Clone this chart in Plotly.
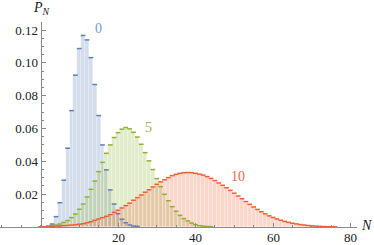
import plotly.graph_objects as go

# ---- data ----
blue_start = 2
blue_vals = [0.0004, 0.0018, 0.0063, 0.0148, 0.0285, 0.048, 0.0709, 0.0925, 0.1087,
             0.1167, 0.114, 0.1032, 0.0868, 0.0679, 0.050, 0.0348, 0.0226, 0.014,
             0.0081, 0.0047, 0.0026, 0.0012, 0.0006, 0.0003]

green_start = 2
green_vals = [0.0003, 0.0007, 0.0012, 0.0018, 0.0028, 0.0039, 0.0057, 0.0079, 0.0108,
              0.014, 0.0183, 0.023, 0.028, 0.0337, 0.0394, 0.0449, 0.050, 0.0545,
              0.0575, 0.0596, 0.0606, 0.0598, 0.0577, 0.0548, 0.0504, 0.0453, 0.0403,
              0.035, 0.0295, 0.0246, 0.0199, 0.016, 0.0124, 0.0096, 0.0071, 0.0051,
              0.0037, 0.0024, 0.0014, 0.0008, 0.0005, 0.0003, 0.0002]

red_start = 0
red_vals = [0.0001, 0.0002, 0.0003, 0.0004, 0.0005, 0.0006, 0.0008, 0.001, 0.0012,
            0.0014, 0.0017, 0.002, 0.0026, 0.0032, 0.0041, 0.0049, 0.0057, 0.0065,
            0.0075, 0.009, 0.0102, 0.0116, 0.013, 0.0145, 0.0163, 0.0179, 0.0195,
            0.0212, 0.0227, 0.0244, 0.026, 0.0275, 0.0288, 0.0301, 0.0313, 0.0321,
            0.0327, 0.0331, 0.0332, 0.0331, 0.0327, 0.0322, 0.0316, 0.0307, 0.0296,
            0.0283, 0.0268, 0.0254, 0.0239, 0.0223, 0.0206, 0.0189, 0.0172, 0.0155,
            0.0138, 0.0122, 0.0107, 0.0093, 0.008, 0.0068, 0.0058, 0.0049, 0.0041,
            0.0034, 0.0028, 0.0023, 0.0019, 0.0015, 0.0012, 0.0009, 0.0007, 0.0005,
            0.0004, 0.0003, 0.0002, 0.0002, 0.0001]

series_labels = ["0", "5", "10"]
label_pos_x = [14.9, 27.8, 51.0]
label_pos_y = [0.1212, 0.0608, 0.0307]

x_tick_vals = [20, 40, 60, 80]
x_tick_text = ["20", "40", "60", "80"]
y_tick_vals = [0.02, 0.04, 0.06, 0.08, 0.10, 0.12]
y_tick_text = ["0.02", "0.04", "0.06", "0.08", "0.10", "0.12"]

# ---- styles ----
edge_colors = ["#5e81b5", "#8fb032", "#eb6235"]
fill_colors = ["rgba(94,129,181,0.27)", "rgba(143,176,50,0.26)", "rgba(235,98,53,0.26)"]
label_colors = ["#7b98c6", "#9ab53c", "#ee6a45"]
serif = "Liberation Serif, Times New Roman, DejaVu Serif, serif"
axis_col = "#8a8a8a"

W, H = 374, 245
plot_right = 357
y_axis_px = 40.5

series = [(blue_start, blue_vals), (green_start, green_vals), (red_start, red_vals)]

fig = go.Figure()
for (start, vals), fc in zip(series, fill_colors):
    xs = list(range(start, start + len(vals)))
    fig.add_trace(go.Bar(x=xs, y=vals, width=1,
                         marker=dict(color=fc, line=dict(color="rgba(255,255,255,0.6)", width=0.5)),
                         showlegend=False, hoverinfo="skip"))
for (start, vals), ec in zip(series, edge_colors):
    xs = list(range(start, start + len(vals)))
    fig.add_trace(go.Scatter(x=xs, y=vals, mode="markers",
                             marker=dict(symbol="line-ew", size=3.4,
                                         line=dict(color=ec, width=1.5)),
                             showlegend=False, hoverinfo="skip", cliponaxis=False))

for t, lx, ly, c in zip(series_labels, label_pos_x, label_pos_y, label_colors):
    fig.add_annotation(x=lx, y=ly, text=t, showarrow=False,
                       xanchor="center", yanchor="middle",
                       font=dict(family=serif, size=14, color=c))

# x tick labels (placed just under the axis, as in the reference)
for v, t in zip(x_tick_vals, x_tick_text):
    fig.add_annotation(x=v, y=0, xref="x", yref="y", text=t, showarrow=False,
                       xanchor="center", yanchor="top", yshift=-1,
                       font=dict(family=serif, size=13, color="#222"))

fig.add_annotation(xref="paper", yref="paper", x=41 / W, y=(227 - 9) / 205,
                   text="<i>P</i><sub><i>N</i></sub>", showarrow=False,
                   xanchor="center", yanchor="middle",
                   font=dict(family=serif, size=14, color="#222"))
fig.add_annotation(xref="paper", yref="paper", x=366.5 / W, y=(227 - 225) / 205,
                   text="<i>N</i>", showarrow=False,
                   xanchor="center", yanchor="middle",
                   font=dict(family=serif, size=14, color="#222"))

ppu_x = 3.875
x_lo = -y_axis_px / ppu_x
x_hi = x_lo + plot_right / ppu_x

fig.update_layout(
    width=W, height=H,
    margin=dict(l=0, r=0, t=22, b=18),
    paper_bgcolor="white", plot_bgcolor="white",
    barmode="overlay", bargap=0,
    xaxis=dict(range=[x_lo, x_hi], domain=[0, plot_right / W],
               showline=True, linecolor=axis_col, linewidth=1,
               showgrid=False, zeroline=False,
               tickmode="array", tickvals=x_tick_vals, showticklabels=False,
               ticks="inside", ticklen=4, tickcolor=axis_col,
               minor=dict(tickmode="array", tickvals=list(range(-10, 82, 5)),
                          ticks="inside", ticklen=2, tickcolor=axis_col)),
    yaxis=dict(range=[0, 0.1249], anchor="free", position=y_axis_px / W,
               showline=True, linecolor=axis_col, linewidth=1,
               showgrid=False, zeroline=False,
               tickmode="array", tickvals=y_tick_vals, ticktext=y_tick_text,
               ticks="inside", ticklen=4, tickcolor=axis_col,
               minor=dict(tickmode="array",
                          tickvals=[i * 0.005 for i in range(1, 25)],
                          ticks="inside", ticklen=2, tickcolor=axis_col),
               tickfont=dict(family=serif, size=13, color="#222")),
)

fig.write_html("out.html", config={"displayModeBar": False},
               post_script="document.body.style.margin='0px';document.body.style.overflow='hidden';")
